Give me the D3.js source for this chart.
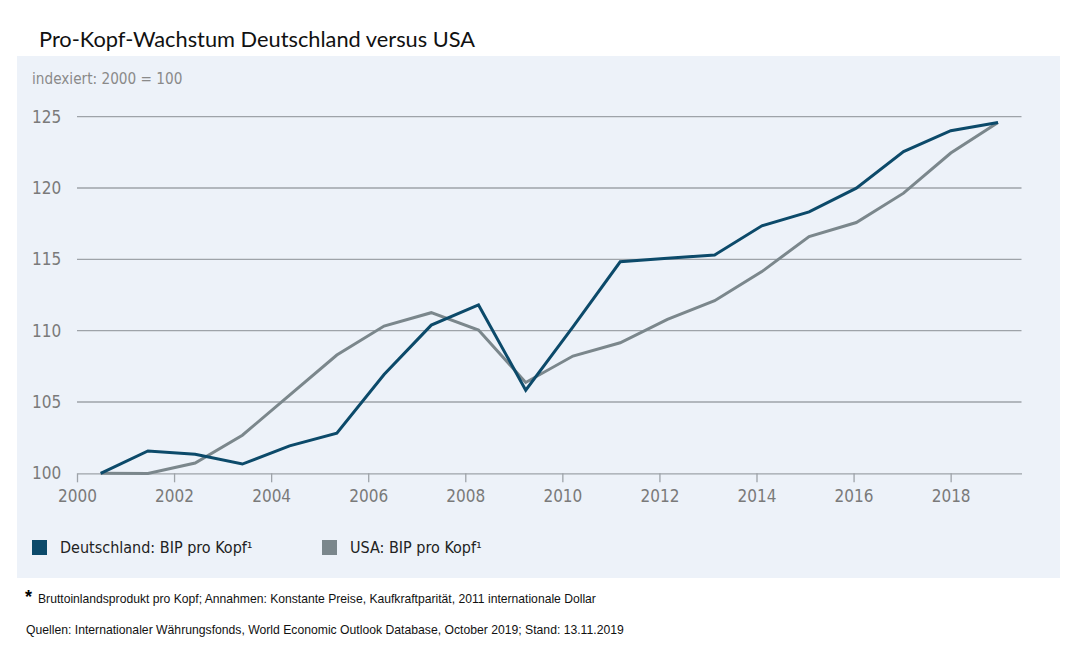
<!DOCTYPE html>
<html>
<head>
<meta charset="utf-8">
<script src="https://cdn.jsdelivr.net/npm/d3@7"></script>
<style>
  body { margin: 0; background: #fff; }
  svg { display: block; }
</style>
</head>
<body>
<div id="chart"></div>
<script>
// jahre 2000..2019, indexiert 2000 = 100
const years = d3.range(2000, 2020);
const deutschland = [100, 101.57, 101.33, 100.65, 101.92, 102.81, 106.93, 110.39, 111.8, 105.83,
                     110.27, 114.83, 115.07, 115.31, 117.35, 118.33, 119.99, 122.56, 124.02, 124.6];
const usa = [100, 99.98, 100.72, 102.67, 105.48, 108.29, 110.32, 111.26, 110.04, 106.37,
             108.22, 109.15, 110.79, 112.1, 114.14, 116.6, 117.58, 119.64, 122.45, 124.6];
const xTicks = [2000, 2002, 2004, 2006, 2008, 2010, 2012, 2014, 2016, 2018];
const yTicks = [100, 105, 110, 115, 120, 125];
const seriesNames = ["Deutschland: BIP pro Kopf\u00b9", "USA: BIP pro Kopf\u00b9"];
const colors = ["#0c4a6a", "#7b878c"];

const W = 1083, H = 650;
const narrow = "'Liberation Sans Narrow', 'DejaVu Sans Condensed', sans-serif";

let svg = d3.select("#chart").append("svg")
    .attr("width", W)
    .attr("height", H);

svg.append("rect").attr("width", W).attr("height", H).attr("fill", "#fff");

// title
svg.append("text")
    .attr("x", 39).attr("y", 47)
    .style("font-family", "Lato, 'Open Sans', sans-serif")
    .style("font-size", "21.8px")
    .attr("fill", "#111")
    .text("Pro-Kopf-Wachstum Deutschland versus USA");

// panel
svg.append("rect")
    .attr("x", 17).attr("y", 56)
    .attr("width", 1043).attr("height", 522)
    .attr("fill", "#edf2f9");

// scales: the axis and the points are not quite aligned in the original
let xAxisScale = d3.scaleLinear().domain([2000, 2019.46]).range([77, 1021.5]);
let x = d3.scaleLinear().domain([2000, 2019]).range([100.7, 998]);
let y = d3.scaleLinear().domain([100, 125]).range([473.3, 116.7]);

svg.append("text")
    .attr("x", 32).attr("y", 84)
    .style("font-family", narrow)
    .style("font-size", "15.2px")
    .attr("fill", "#8a8a8a")
    .text("indexiert: 2000 = 100");

// gridlines
svg.append("g")
    .selectAll("line")
    .data(yTicks.slice(1))
    .join("line")
    .attr("x1", xAxisScale(2000)).attr("x2", xAxisScale.range()[1])
    .attr("y1", d => y(d)).attr("y2", d => y(d))
    .attr("stroke", "#9ea3a9")
    .attr("stroke-width", 1.3);

svg.append("g")
    .selectAll("text")
    .data(yTicks)
    .join("text")
    .attr("x", 32)
    .attr("y", d => y(d) + 6)
    .style("font-family", narrow)
    .style("font-size", "17px")
    .attr("fill", "#7a7a7a")
    .text(d => d);

// x axis
let xAxis = d3.axisBottom(xAxisScale)
    .tickValues(xTicks)
    .tickFormat(d3.format("d"))
    .tickSize(9)
    .tickPadding(8)
    .tickSizeOuter(0);

let gx = svg.append("g")
    .attr("transform", "translate(0," + y(100) + ")")
    .call(xAxis);
gx.select(".domain").attr("stroke", "#9ea3a9").attr("stroke-width", 1.3);
gx.selectAll(".tick line").attr("stroke", "#9ea3a9").attr("stroke-width", 1.3);
gx.selectAll(".tick text")
    .style("font-family", narrow)
    .style("font-size", "17px")
    .attr("fill", "#7a7a7a");

// lines
let line = d3.line()
    .x((d, i) => x(years[i]))
    .y(d => y(d));

[usa, deutschland].forEach((s, k) => {
    svg.append("path")
        .datum(s)
        .attr("fill", "none")
        .attr("stroke", k === 0 ? colors[1] : colors[0])
        .attr("stroke-width", 3)
        .attr("stroke-linejoin", "miter")
        .attr("d", line);
});

// legend
let legendX = [32, 322];
let lg = svg.append("g")
    .selectAll("g")
    .data(seriesNames)
    .join("g")
    .attr("transform", (d, i) => "translate(" + legendX[i] + ",540)");
lg.append("rect")
    .attr("width", 15).attr("height", 15)
    .attr("fill", (d, i) => colors[i]);
lg.append("text")
    .attr("x", 28).attr("y", 13)
    .style("font-family", narrow)
    .style("font-size", "16px")
    .attr("fill", "#222")
    .text(d => d);

// footnotes
svg.append("text")
    .attr("x", 25).attr("y", 603)
    .style("font-family", "'Liberation Sans', Arial, sans-serif")
    .style("font-size", "18px")
    .style("font-weight", "bold")
    .attr("fill", "#000")
    .text("*");
svg.append("text")
    .attr("x", 38).attr("y", 603)
    .style("font-family", "'Liberation Sans', Arial, sans-serif")
    .style("font-size", "12.15px")
    .attr("fill", "#111")
    .text("Bruttoinlandsprodukt pro Kopf; Annahmen: Konstante Preise, Kaufkraftparität, 2011 internationale Dollar");
svg.append("text")
    .attr("x", 26).attr("y", 634)
    .style("font-family", "'Liberation Sans', Arial, sans-serif")
    .style("font-size", "12.2px")
    .attr("fill", "#111")
    .text("Quellen: Internationaler Währungsfonds, World Economic Outlook Database, October 2019; Stand: 13.11.2019");
</script>
</body>
</html>
